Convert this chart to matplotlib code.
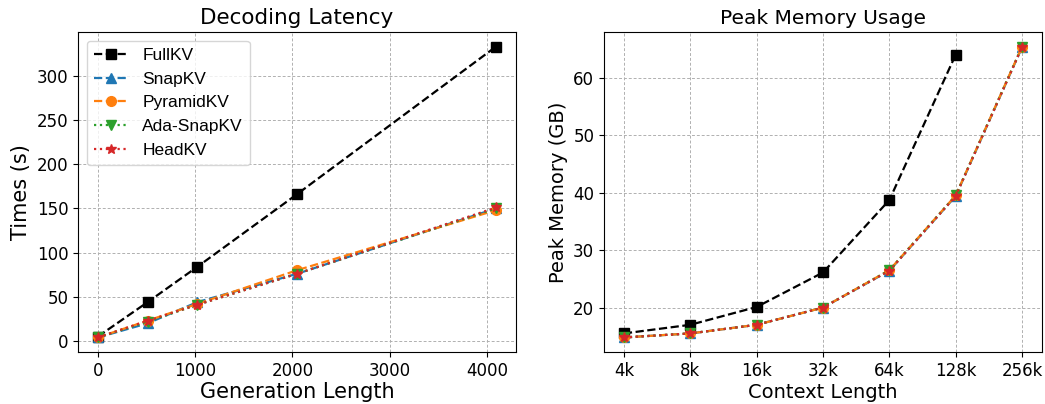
import matplotlib
matplotlib.use("Agg")
import matplotlib.pyplot as plt

gen_len = [0, 512, 1024, 2048, 4096]
lat_full = [5, 44, 84, 166, 333]
lat_snap = [4, 20, 44, 76, 150]
lat_pyramid = [4, 23, 42, 80, 148]
lat_ada = [4, 22, 41, 76, 150]
lat_head = [4, 23, 41, 76, 151]

ctx_labels = ["4k", "8k", "16k", "32k", "64k", "128k", "256k"]
mem_full = [15.5, 17.0, 20.1, 26.1, 38.7, 64.0]
mem_snap = [14.8, 15.5, 17.0, 20.0, 26.4, 39.4, 65.3]
mem_pyramid = [14.8, 15.5, 17.0, 20.0, 26.5, 39.5, 65.4]
mem_ada = [14.8, 15.5, 17.0, 20.0, 26.5, 39.5, 65.4]
mem_head = [14.8, 15.5, 17.0, 20.0, 26.4, 39.4, 65.3]

styles = [
    ("FullKV", "k", "--", "s"),
    ("SnapKV", "tab:blue", "--", "^"),
    ("PyramidKV", "tab:orange", "--", "o"),
    ("Ada-SnapKV", "tab:green", ":", "v"),
    ("HeadKV", "tab:red", ":", "*"),
]

fig = plt.figure(figsize=(10.45, 4.04), dpi=100)
ax1 = fig.add_axes([78 / 1045, 52 / 404, 438 / 1045, 320 / 404])
ax2 = fig.add_axes([604 / 1045, 52 / 404, 438 / 1045, 320 / 404])

grid_kw = dict(linestyle=(0, (3, 2)), color="#b0b0b0", linewidth=0.7)

lat = [lat_full, lat_snap, lat_pyramid, lat_ada, lat_head]
for (name, c, ls, m), ys in zip(styles, lat):
    ax1.plot(gen_len, ys, color=c, linestyle=ls, marker=m, markersize=7,
             linewidth=1.6, label=name)
ax1.set_title("Decoding Latency", fontsize=15.5)
ax1.set_xlabel("Generation Length", fontsize=15, labelpad=2)
ax1.set_ylabel("Times (s)", fontsize=15)
ax1.tick_params(labelsize=12)
ax1.grid(True, **grid_kw)
ax1.legend(loc="upper left", prop={"family": "Liberation Sans", "size": 12.5})

mem = [mem_full, mem_snap, mem_pyramid, mem_ada, mem_head]
for (name, c, ls, m), ys in zip(styles, mem):
    xs = list(range(len(ys)))
    ax2.plot(xs, ys, color=c, linestyle=ls, marker=m, markersize=7,
             linewidth=1.6, label=name)
ax2.set_xticks(range(len(ctx_labels)))
ax2.set_xticklabels(ctx_labels)
ax2.set_title("Peak Memory Usage", fontsize=14.5)
ax2.set_xlabel("Context Length", fontsize=14, labelpad=2)
ax2.set_ylabel("Peak Memory (GB)", fontsize=14)
ax2.tick_params(labelsize=12)
ax2.grid(True, **grid_kw)

fig.savefig("out.png", dpi=100)
